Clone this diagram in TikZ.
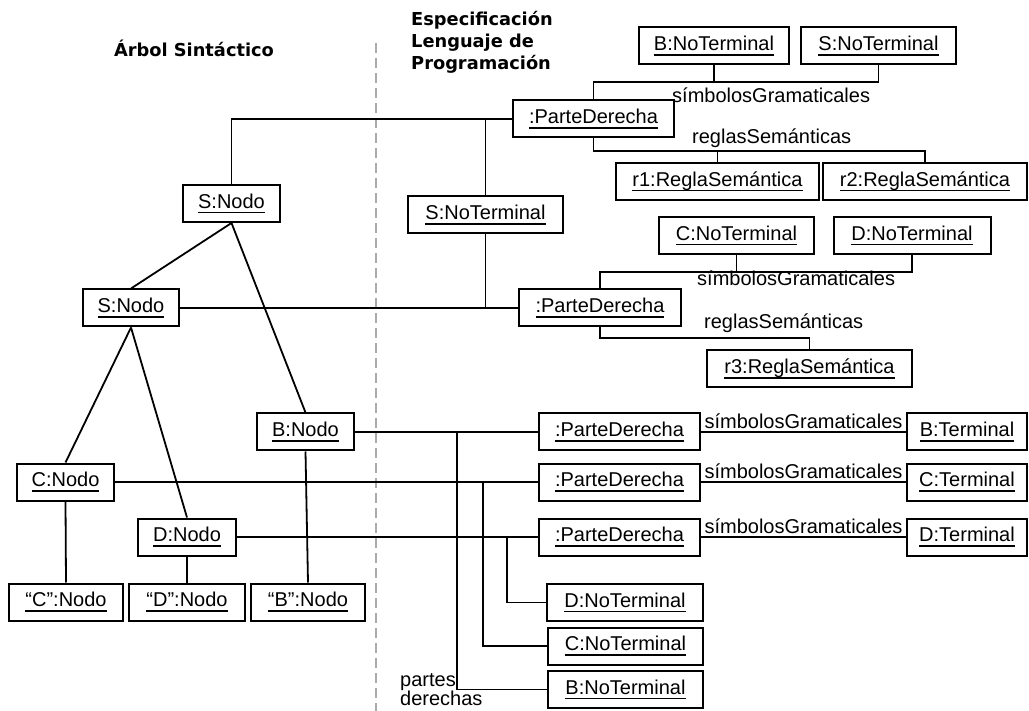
\documentclass[tikz,border=0pt]{standalone}
\usepackage{fontspec}
\setmainfont{Liberation Sans}
\newfontfamily\hdrfont{DejaVu Sans}
\usepackage{tikz}
\usetikzlibrary{calc}
\definecolor{sepgray}{HTML}{AAAAAA}
\newsavebox{\instbox}
\newcommand{\inst}[1]{\sbox{\instbox}{#1}\rlap{\rule[-5pt]{\wd\instbox}{1.6pt}}\usebox{\instbox}}
\tikzset{
  obj/.style={rectangle, draw, line width=2pt, inner sep=0pt, minimum height=37pt,
              font=\fontsize{20}{22}\selectfont},
  hdr/.style={inner sep=0pt, font=\hdrfont\bfseries\fontsize{17.8}{22}\selectfont},
  rol/.style={inner sep=0pt, font=\fontsize{20}{19.5}\selectfont},
  ln/.style={draw, line width=1.8pt},
  sep/.style={draw=sepgray, line width=1.4pt, dash pattern=on 10pt off 5pt},
}
\begin{document}
\begin{tikzpicture}[x=1pt,y=-1pt]
\useasboundingbox (0,0) rectangle (1029,711);

% headings and separator
\node[hdr,anchor=base] (arbolHdr) at (194,57) {Árbol Sintáctico};
\node[hdr,anchor=north west,align=left] (specHdr) at (411,11)
   {Especificación\\Lenguaje de\\Programación};
\coordinate (sepTop) at (376,43);
\coordinate (sepBot) at (376,711);
\draw[sep] (sepTop) -- (sepBot);

% syntax tree
\node[obj,minimum width=97pt] (sTop) at (231.5,203.5) {\inst{S:Nodo}};
\node[obj,minimum width=96pt] (sMid) at (131,308) {\inst{S:Nodo}};
\node[obj,minimum width=97pt] (bNodo) at (305.5,432) {\inst{B:Nodo}};
\node[obj,minimum width=97pt] (cNodo) at (65.5,482) {\inst{C:Nodo}};
\node[obj,minimum width=98pt] (dNodo) at (187,537) {\inst{D:Nodo}};
\node[obj,minimum width=114pt] (cLeaf) at (66,602) {\inst{“C”:Nodo}};
\node[obj,minimum width=116pt] (dLeaf) at (187,602) {\inst{“D”:Nodo}};
\node[obj,minimum width=114pt] (bLeaf) at (308,602) {\inst{“B”:Nodo}};

% grammar: S -> B S
\node[obj,minimum width=150pt] (bNT1) at (714,46) {\inst{B:NoTerminal}};
\node[obj,minimum width=155pt] (sNT1) at (878.5,46) {\inst{S:NoTerminal}};
\node[obj,minimum width=161pt] (pd1) at (593.5,119) {\inst{:ParteDerecha}};
\node[obj,minimum width=203pt] (r1) at (717.5,181.5) {\inst{r1:ReglaSemántica}};
\node[obj,minimum width=204pt] (r2) at (925,181.5) {\inst{r2:ReglaSemántica}};
\node[obj,minimum width=155pt] (sNT) at (485.5,215) {\inst{S:NoTerminal}};

% grammar: S -> C D
\node[obj,minimum width=155pt] (cNT1) at (736.5,235.5) {\inst{C:NoTerminal}};
\node[obj,minimum width=157pt] (dNT1) at (912,235.5) {\inst{D:NoTerminal}};
\node[obj,minimum width=162pt] (pd2) at (600,308) {\inst{:ParteDerecha}};
\node[obj,minimum width=205pt] (r3) at (809.5,369) {\inst{r3:ReglaSemántica}};

% terminals
\node[obj,minimum width=161pt] (pd3) at (619.5,432) {\inst{:ParteDerecha}};
\node[obj,minimum width=161pt] (pd4) at (619.5,482) {\inst{:ParteDerecha}};
\node[obj,minimum width=161pt] (pd5) at (619.5,537) {\inst{:ParteDerecha}};
\node[obj,minimum width=120pt] (bT) at (967,432) {\inst{B:Terminal}};
\node[obj,minimum width=120pt] (cT) at (967,482) {\inst{C:Terminal}};
\node[obj,minimum width=120pt] (dT) at (967,537) {\inst{D:Terminal}};
\node[obj,minimum width=156pt] (dNT2) at (625,602.5) {\inst{D:NoTerminal}};
\node[obj,minimum width=155pt] (cNT2) at (625.5,646) {\inst{C:NoTerminal}};
\node[obj,minimum width=155pt] (bNT2) at (625.5,689.5) {\inst{B:NoTerminal}};

% tree edges
\draw[ln] (sTop.south) -- (sMid.north);
\draw[ln] (sTop.south) -- (bNodo.north);
\draw[ln] (sMid.south) -- (cNodo.north);
\draw[ln] (sMid.south) -- (dNodo.north);
\draw[ln] (cNodo.south) -- (cLeaf.north);
\draw[ln] (dNodo.south) -- (dLeaf.north);
\draw[ln] (bNodo.south) -- (bLeaf.north);

% tree -> grammar
\draw[ln] (sTop.north) |- (pd1.west);
\draw[ln] (sNT.north) -- (sNT.north |- pd1.west);
\draw[ln] (sMid.east) -- (pd2.west);
\draw[ln] (sNT.south) -- (sNT.south |- pd2.west);
\draw[ln] (bNodo.east) -- (pd3.west);
\draw[ln] (cNodo.east) -- (pd4.west);
\draw[ln] (dNodo.east) -- (pd5.west);

% partes derechas
\coordinate (jB) at (457,432);
\coordinate (jC) at (483,482);
\coordinate (jD) at (507,537);
\draw[ln] (jB) |- (bNT2.west);
\draw[ln] (jC) |- (cNT2.west);
\draw[ln] (jD) |- (dNT2.west);
\node[rol,anchor=north west,align=left] (pdLbl) at (400,673) {partes\\derechas};

% simbolosGramaticales / reglasSemanticas, first rule
\coordinate (sg1) at (0,82);
\draw[ln] (pd1.north) |- (sNT1.south |- sg1) -- (sNT1.south);
\draw[ln] (bNT1.south) -- (bNT1.south |- sg1);
\node[rol,anchor=base west] (sgLbl1) at (672,103) {símbolosGramaticales};
\coordinate (rs1) at (0,151);
\draw[ln] (pd1.south) |- (r2.north |- rs1) -- (r2.north);
\draw[ln] (r1.north) -- (r1.north |- rs1);
\node[rol,anchor=base west] (rsLbl1) at (692,144) {reglasSemánticas};

% second rule
\coordinate (sg2) at (0,272);
\draw[ln] (pd2.north) |- (dNT1.south |- sg2) -- (dNT1.south);
\draw[ln] (cNT1.south) -- (cNT1.south |- sg2);
\node[rol,anchor=base west] (sgLbl2) at (697,286) {símbolosGramaticales};
\coordinate (rs2) at (0,338);
\draw[ln] (pd2.south) |- (r3.north |- rs2) -- (r3.north);
\node[rol,anchor=base west] (rsLbl2) at (704,329) {reglasSemánticas};

% terminal rules
\draw[ln] (pd3.east) -- (bT.west)
   node[rol,midway,above=2pt] {símbolosGramaticales};
\draw[ln] (pd4.east) -- (cT.west)
   node[rol,midway,above=2pt] {símbolosGramaticales};
\draw[ln] (pd5.east) -- (dT.west)
   node[rol,midway,above=2pt] {símbolosGramaticales};
\end{tikzpicture}
\end{document}
